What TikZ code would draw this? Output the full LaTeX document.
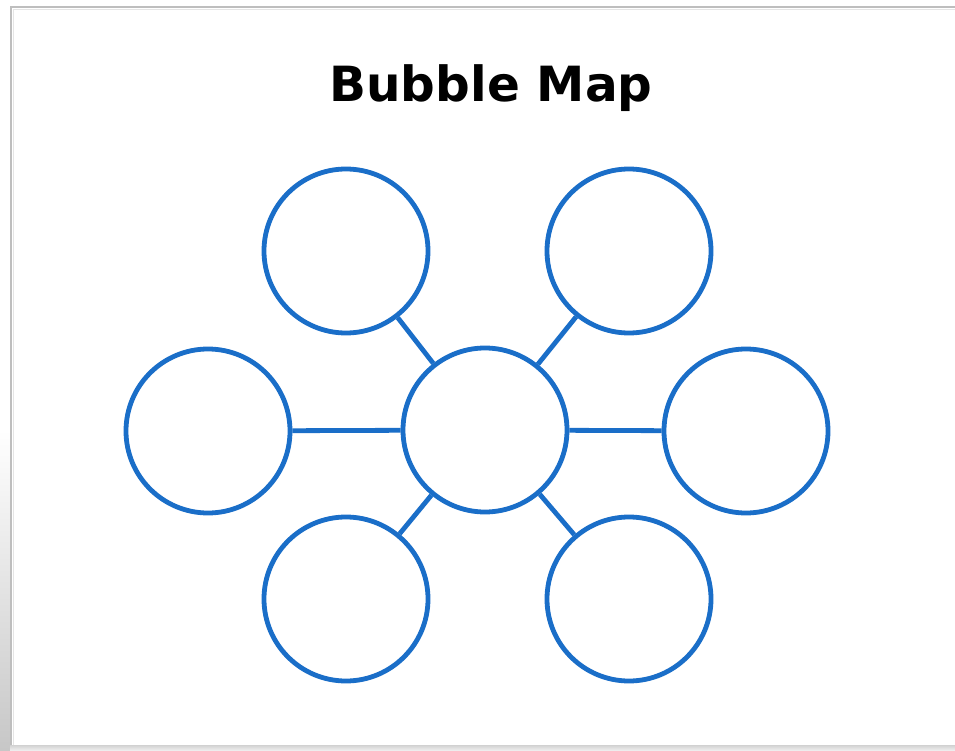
\documentclass[tikz,border=0pt]{standalone}
\usepackage{fontspec}
\setmainfont{DejaVu Sans}
\definecolor{bub}{RGB}{26,110,200}
\definecolor{frame}{RGB}{190,190,190}
\begin{document}
\begin{tikzpicture}[x=1pt,y=-1pt,
  bubble/.style={circle,draw=bub,line width=4.8pt,minimum size=164pt,inner sep=0pt,fill=white},
  link/.style={draw=bub,line width=4.8pt}]
\useasboundingbox (0,0) rectangle (955,751);
\fill[white] (0,0) rectangle (955,751);
% left shadow outside card
\shade[top color=white,bottom color=black!22] (0,430) rectangle (10,751);
% bottom shadow
\shade[top color=black!18,bottom color=black!5] (10,745) rectangle (955,751);
% card
\fill[white] (11,7) rectangle (955,745);
\draw[frame,line width=2pt] (11,745) -- (11,7) -- (955,7);
\draw[black!10,line width=1pt] (13.5,745) -- (13.5,9.5) -- (955,9.5);
% title
\node[font=\bfseries\fontsize{48.5}{58}\selectfont,anchor=base] (title) at (491,102) {Bubble Map};
% bubbles
\node[bubble] (c)  at (485,430) {};
\node[bubble] (tl) at (346,251) {};
\node[bubble] (tr) at (629,251) {};
\node[bubble] (l)  at (208,431) {};
\node[bubble] (r)  at (746,431) {};
\node[bubble] (bl) at (346,599) {};
\node[bubble] (br) at (629,599) {};
\path[link] (c) -- (tl);
\path[link] (c) -- (tr);
\path[link] (c) -- (l);
\path[link] (c) -- (r);
\path[link] (c) -- (bl);
\path[link] (c) -- (br);
\end{tikzpicture}
\end{document}
